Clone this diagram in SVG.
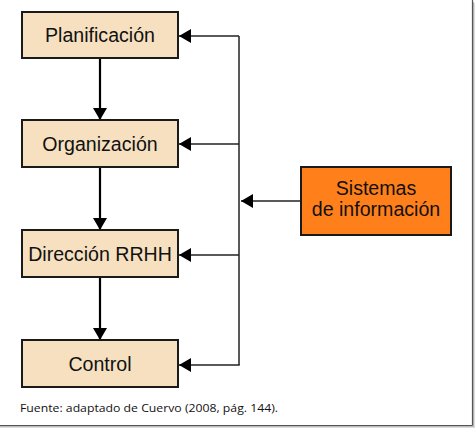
<svg xmlns="http://www.w3.org/2000/svg" width="476" height="431" viewBox="0 0 476 431">
<style>
.box{fill:#F6E0C0;stroke:#1a1a1a;stroke-width:2}
.sis{fill:#FF7F1A;stroke:#1a1a1a;stroke-width:2}
.lbl{font-family:"Liberation Sans",Arial,sans-serif;font-size:19.6px;fill:#111;text-anchor:middle}
.flow{stroke:#000;stroke-width:2.2;fill:none}
.fb{stroke:#222;stroke-width:1.5;fill:none}
.cap{font-family:"Open Sans","DejaVu Sans",sans-serif;font-size:11.5px;fill:#111}
</style>
<defs>
<marker id="ah" markerUnits="userSpaceOnUse" markerWidth="12" markerHeight="14" viewBox="0 0 12 14" refX="12" refY="7" orient="auto">
<path d="M0,0 L12,7 L0,14 Z" fill="#000"/>
</marker>
</defs>
<rect x="0" y="0" width="476" height="431" fill="#fff"/>
<g id="frame">
<line x1="473.5" y1="2" x2="473.5" y2="427" stroke="#bbb" stroke-width="1"/>
<line x1="474.5" y1="3" x2="474.5" y2="428" stroke="#ddd" stroke-width="1"/>
<line x1="0" y1="426.5" x2="474" y2="426.5" stroke="#bbb" stroke-width="1"/>
<line x1="0" y1="427.5" x2="475" y2="427.5" stroke="#ddd" stroke-width="1"/>
<line x1="472.5" y1="0" x2="472.5" y2="425.5" stroke="#555" stroke-width="1.2"/>
<line x1="0" y1="425.5" x2="472.5" y2="425.5" stroke="#555" stroke-width="1.2"/>
</g>
<g id="connectors">
<line class="flow" x1="100" y1="58" x2="100" y2="120" marker-end="url(#ah)"/>
<line class="flow" x1="100" y1="167" x2="100" y2="230" marker-end="url(#ah)"/>
<line class="flow" x1="100" y1="277" x2="100" y2="340" marker-end="url(#ah)"/>
<line class="fb" x1="239" y1="36" x2="239" y2="365"/>
<line class="fb" x1="239" y1="36" x2="179" y2="36" marker-end="url(#ah)"/>
<line class="fb" x1="239" y1="144" x2="179" y2="144" marker-end="url(#ah)"/>
<line class="fb" x1="239" y1="255" x2="179" y2="255" marker-end="url(#ah)"/>
<line class="fb" x1="239.75" y1="365" x2="179" y2="365" marker-end="url(#ah)"/>
<line class="fb" x1="301" y1="201" x2="241" y2="201" marker-end="url(#ah)"/>
</g>
<g id="planificacion">
<rect class="box" x="22" y="12" width="156" height="46"/>
<text class="lbl" x="100" y="42">Planificación</text>
</g>
<g id="organizacion">
<rect class="box" x="22" y="120" width="156" height="47"/>
<text class="lbl" x="100" y="151">Organización</text>
</g>
<g id="direccion">
<rect class="box" x="22" y="230" width="156" height="47"/>
<text class="lbl" x="100" y="261">Dirección RRHH</text>
</g>
<g id="control">
<rect class="box" x="22" y="340" width="156" height="47"/>
<text class="lbl" x="100" y="371">Control</text>
</g>
<g id="sistemas">
<rect class="sis" x="301" y="167" width="150" height="68"/>
<text class="lbl" x="376" y="195">Sistemas</text>
<text class="lbl" x="376" y="216">de información</text>
</g>
<text class="cap" x="20" y="412" textLength="258" lengthAdjust="spacingAndGlyphs">Fuente: adaptado de Cuervo (2008, pág. 144).</text>
</svg>
